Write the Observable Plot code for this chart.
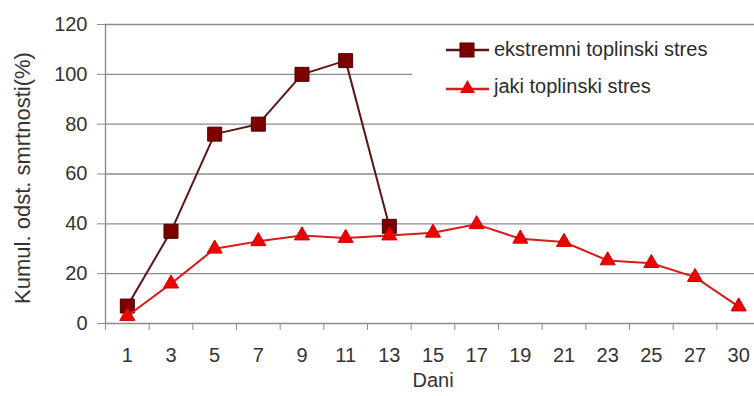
<!DOCTYPE html>
<html>
<head>
<meta charset="utf-8">
<script src="https://cdn.jsdelivr.net/npm/d3@7"></script>
<script src="https://cdn.jsdelivr.net/npm/@observablehq/plot@0.6"></script>
<style>
  html, body { margin: 0; padding: 0; background: #fff; overflow: hidden; }
  #wrap { position: relative; width: 754px; height: 396px; font-family: "Liberation Sans", Arial, sans-serif; }
  #legend { position: absolute; left: 412px; top: 28px; width: 342px; height: 86px; background: #fff; }
  .item { position: absolute; left: 34px; display: flex; align-items: center; font-size: 20px; color: #2b2b2b; white-space: nowrap; }
  .item svg { margin-right: 5px; }
</style>
</head>
<body>
<div id="wrap"><div id="legend"></div></div>
<script>
const days = ["1","3","5","7","9","11","13","15","17","19","21","23","25","27","30"];
const ekstremni = [7, 37, 76, 80, 100, 105.5, 39];
const jaki = [3, 16, 30, 33, 35.3, 34.3, 35.3, 36.4, 39.8, 34, 32.7, 25.3, 24.2, 18.6, 6.8];
const yTicks = [0, 20, 40, 60, 80, 100, 120];
const seriesNames = ["ekstremni toplinski stres", "jaki toplinski stres"];
const colors = { darkLine: "#5a1616", darkFill: "#7d0000", redLine: "#d81c1c", redFill: "#ee0000" };

const d1 = ekstremni.map((v, i) => ({x: i + 0.5, y: v}));
const d2 = jaki.map((v, i) => ({x: i + 0.5, y: v}));
const bounds = d3.range(days.length + 1);
const centers = days.map((d, i) => i + 0.5);

const chart = Plot.plot({
  width: 754,
  height: 396,
  marginLeft: 105,
  marginRight: -6,
  marginTop: 24,
  marginBottom: 73,
  style: { fontFamily: "Liberation Sans, Arial, sans-serif", overflow: "visible", background: "transparent" },
  x: { type: "linear", domain: [0, days.length] },
  y: { domain: [0, 120] },
  marks: [
    Plot.ruleY(yTicks, { stroke: "#8c8c8c", strokeWidth: 1.4 }),
    Plot.axisY(yTicks, { tickSize: 8, tickPadding: 10, fontSize: 20, color: "#333", stroke: "#8c8c8c", label: null }),
    Plot.ruleX([0], { stroke: "#8c8c8c", strokeWidth: 1.4 }),
    Plot.axisX(bounds, { tickSize: 7, tickFormat: () => "", stroke: "#8c8c8c", label: null }),
    Plot.axisX(centers, { tickSize: 0, tickPadding: 24, fontSize: 20, color: "#333", tickFormat: i => days[Math.floor(i)], label: null }),
    Plot.text(["Dani"], { frameAnchor: "bottom", dy: 63, fontSize: 20, fill: "#333" }),
    Plot.text(["Kumul. odst. smrtnosti(%)"], { frameAnchor: "left", textAnchor: "middle", rotate: -90, dx: -83, dy: 4, fontSize: 22, fill: "#333" }),
    Plot.line(d1, { x: "x", y: "y", stroke: colors.darkLine, strokeWidth: 2 }),
    Plot.dot(d1, { x: "x", y: "y", symbol: "square", r: 7.9, fill: colors.darkFill, stroke: "#4a0000", strokeWidth: 1 }),
    Plot.line(d2, { x: "x", y: "y", stroke: colors.redLine, strokeWidth: 2 }),
    Plot.dot(d2, { x: "x", y: "y", symbol: "triangle", r: 5.6, fill: colors.redFill, stroke: "#d00000", strokeWidth: 1 })
  ]
});
document.getElementById("wrap").insertBefore(chart, document.getElementById("legend"));

const legend = document.getElementById("legend");
const swatches = [
  `<svg width="43" height="16"><line x1="0" y1="8" x2="43" y2="8" stroke="${colors.darkLine}" stroke-width="2.5"/><rect x="14" y="1" width="14" height="14" fill="${colors.darkFill}" stroke="#4a0000"/></svg>`,
  `<svg width="43" height="16"><line x1="0" y1="10" x2="43" y2="10" stroke="${colors.redLine}" stroke-width="2.5"/><polygon points="21.5,1 29,14 14,14" fill="${colors.redFill}"/></svg>`
];
seriesNames.forEach((name, i) => {
  const div = document.createElement("div");
  div.className = "item";
  div.style.top = (i === 0 ? 10 : 47) + "px";
  div.innerHTML = swatches[i] + `<span>${name}</span>`;
  legend.appendChild(div);
});
</script>
</body>
</html>
